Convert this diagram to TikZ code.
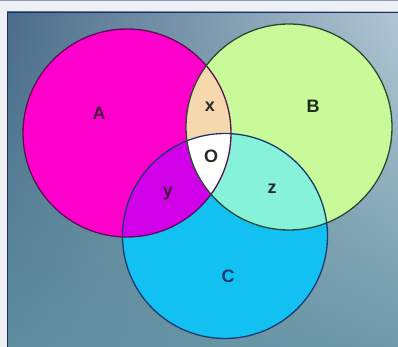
\documentclass[tikz,border=0pt]{standalone}
\usepackage{fontspec}
\setmainfont{Liberation Sans}
\usetikzlibrary{shadings}
\begin{document}
\begin{tikzpicture}[x=1pt,y=-1pt,
  lbl/.style={font=\fontsize{18}{18}\selectfont\bfseries, inner sep=0pt},
  ring/.style={draw=#1, line width=1.3pt}]
\definecolor{outer}{HTML}{EEF0F3}
\definecolor{ul}{HTML}{4B6C8A}
\definecolor{ur}{HTML}{B2C6D2}
\definecolor{ll}{HTML}{5E8D9E}
\definecolor{lr}{HTML}{6E9AAA}
\definecolor{cA}{HTML}{FF00CC}
\definecolor{cB}{HTML}{C8FA9A}
\definecolor{cC}{HTML}{12C0F2}
\definecolor{cAB}{HTML}{F6D8AE}
\definecolor{cAC}{HTML}{D000E8}
\definecolor{cBC}{HTML}{86F2DA}
\definecolor{edgeA}{HTML}{5A1050}
\definecolor{edgeB}{HTML}{2A4A30}
\definecolor{edgeC}{HTML}{1A3A70}
\definecolor{tA}{HTML}{4A1040}
\definecolor{tB}{HTML}{1E2A1E}
\definecolor{tC}{HTML}{123C78}
\definecolor{tK}{HTML}{2A2A2A}
\definecolor{frame}{HTML}{1C2C6A}
\definecolor{topline}{HTML}{8A9CB8}
\useasboundingbox (0,0) rectangle (398,347);
\fill[outer] (0,0) rectangle (398,347);
\draw[topline, line width=1pt] (0,0.5) -- (398,0.5);
\shade[upper left=ul, upper right=ur, lower left=ll, lower right=lr] (7,12) rectangle (398,347);
\draw[frame, line width=1pt] (7.5,347) -- (7.5,12.5) -- (398,12.5);
\coordinate (cenA) at (127,133);
\coordinate (cenB) at (289,127);
\coordinate (cenC) at (225,236);
\def\rA{104}\def\rB{103}\def\rC{102.5}
\fill[cA] (cenA) circle (\rA);
\fill[cB] (cenB) circle (\rB);
\fill[cC] (cenC) circle (\rC);
\begin{scope}
  \clip (cenA) circle (\rA);
  \fill[cAB] (cenB) circle (\rB);
  \fill[cAC] (cenC) circle (\rC);
\end{scope}
\begin{scope}
  \clip (cenB) circle (\rB);
  \fill[cBC] (cenC) circle (\rC);
\end{scope}
\begin{scope}
  \clip (cenA) circle (\rA);
  \clip (cenB) circle (\rB);
  \fill[white] (cenC) circle (\rC);
\end{scope}
\draw[ring=edgeA] (cenA) circle (\rA);
\draw[ring=edgeB] (cenB) circle (\rB);
\draw[ring=edgeC] (cenC) circle (\rC);
\node[lbl, text=tA] (la) at (99,113) {A};
\node[lbl, text=tB] (lb) at (313,106) {B};
\node[lbl, text=tC] (lc) at (228,276) {C};
\node[lbl, text=tK] (lx) at (210,107) {x};
\node[lbl, text=tK] (lo) at (211,156) {O};
\node[lbl, text=tA] (ly) at (168,194) {y};
\node[lbl, text=tK] (lz) at (272,189) {z};
\end{tikzpicture}
\end{document}
